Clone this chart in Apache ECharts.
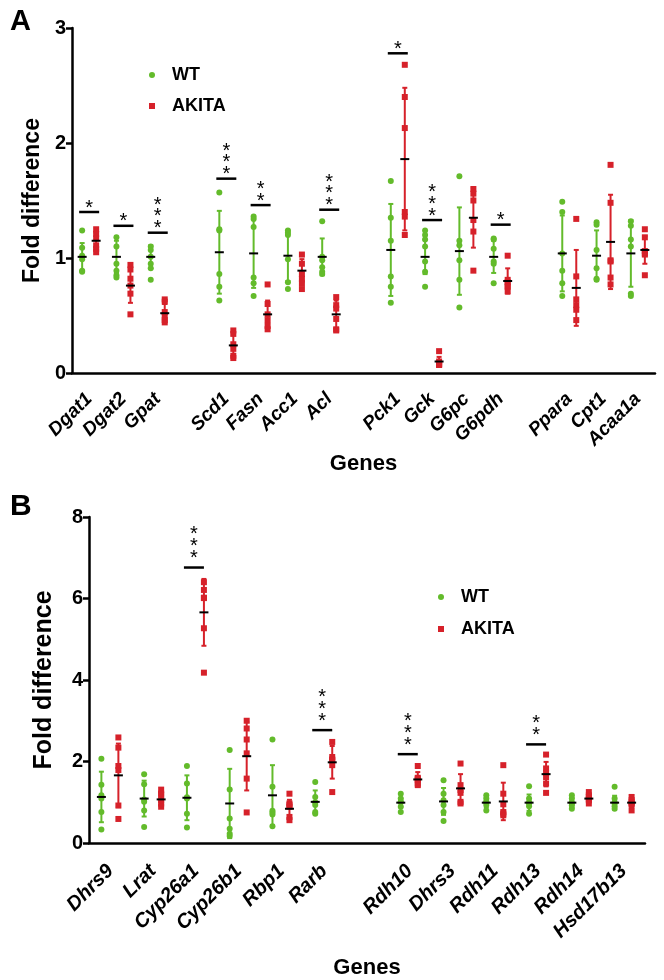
<!DOCTYPE html>
<html>
<head>
<meta charset="utf-8">
<script src="https://cdn.jsdelivr.net/npm/echarts@6/dist/echarts.min.js"></script>
<style>
  html, body { margin: 0; padding: 0; background: #fff; }
  #chart { width: 664px; height: 980px; }
</style>
</head>
<body>
<div id="chart"></div>
<script>
// panel A - lipid / glucose metabolism genes (blank names = gaps on the axis)
const catsA = ['Dgat1', 'Dgat2', 'Gpat', ' ', 'Scd1', 'Fasn', 'Acc1', 'Acl', '  ', 'Pck1', 'Gck', 'G6pc', 'G6pdh', '   ', 'Ppara', 'Cpt1', 'Acaa1a'];
const wtA = [
  [1.24, 1.09, 1.02, 0.99, 0.89, 0.88],
  [1.18, 1.10, 0.95, 0.89, 0.85, 0.83],
  [1.10, 1.07, 1.01, 0.95, 0.91, 0.81],
  [],
  [1.57, 1.25, 1.24, 0.86, 0.75, 0.63],
  [1.36, 1.34, 1.27, 0.83, 0.78, 0.67],
  [1.24, 1.22, 1.20, 0.99, 0.79, 0.73],
  [1.32, 1.01, 0.98, 0.92, 0.88, 0.86],
  [],
  [1.67, 1.35, 1.15, 0.84, 0.75, 0.61],
  [1.24, 1.20, 1.16, 1.10, 0.97, 0.88, 0.75],
  [1.71, 1.15, 1.11, 0.98, 0.81, 0.57],
  [1.17, 1.16, 1.08, 0.97, 0.95, 0.78],
  [],
  [1.49, 1.40, 1.04, 0.89, 0.78, 0.67],
  [1.31, 1.29, 1.07, 0.91, 0.82, 0.81],
  [1.32, 1.28, 1.16, 1.10, 0.69, 0.67]
];
const akitaA = [
  [1.25, 1.21, 1.17, 1.11, 1.08, 1.05],
  [0.94, 0.90, 0.82, 0.76, 0.69, 0.51],
  [0.64, 0.62, 0.53, 0.49, 0.46, 0.44],
  [],
  [0.37, 0.34, 0.25, 0.21, 0.15, 0.13],
  [0.77, 0.60, 0.51, 0.46, 0.41, 0.38],
  [1.03, 0.95, 0.86, 0.82, 0.78, 0.73],
  [0.66, 0.59, 0.56, 0.47, 0.38, 0.37],
  [],
  [2.68, 2.40, 2.13, 1.40, 1.36, 1.20],
  [0.19, 0.10, 0.08, 0.07, 0.07, 0.08],
  [1.60, 1.56, 1.50, 1.33, 1.23, 0.89],
  [1.02, 0.81, 0.79, 0.76, 0.75, 0.71],
  [],
  [1.34, 0.84, 0.64, 0.59, 0.55, 0.46],
  [1.81, 1.48, 0.98, 0.97, 0.83, 0.77],
  [1.25, 1.18, 1.06, 1.04, 1.03, 0.85]
];
const wtMeanA = [1.01, 1.01, 1.01, null, 1.05, 1.04, 1.02, 1.01, null, 1.07, 1.01, 1.06, 1.01, null, 1.04, 1.02, 1.04];
const wtSdA = [0.12, 0.14, 0.10, null, 0.36, 0.30, 0.22, 0.16, null, 0.40, 0.15, 0.38, 0.14, null, 0.33, 0.22, 0.29];
const akMeanA = [1.15, 0.76, 0.52, null, 0.24, 0.51, 0.89, 0.51, null, 1.86, 0.10, 1.35, 0.80, null, 0.74, 1.14, 1.07];
const akSdA = [0.07, 0.15, 0.08, null, 0.09, 0.12, 0.10, 0.12, null, 0.62, 0.04, 0.26, 0.11, null, 0.33, 0.41, 0.12];
// [category index, bar level, number of stars]
const sigA = [[0, 1.40, 1], [1, 1.28, 1], [2, 1.22, 3], [4, 1.69, 3], [5, 1.46, 2], [7, 1.42, 3], [9, 2.78, 1], [10, 1.33, 3], [12, 1.29, 1]];

// panel B - retinoid genes
const catsB = ['Dhrs9', 'Lrat', 'Cyp26a1', 'Cyp26b1', 'Rbp1', 'Rarb', ' ', 'Rdh10', 'Dhrs3', 'Rdh11', 'Rdh13', 'Rdh14', 'Hsd17b13'];
const wtB = [
  [2.07, 1.43, 1.17, 1.09, 0.76, 0.33],
  [1.69, 1.44, 1.07, 1.01, 0.80, 0.39],
  [1.89, 1.46, 1.12, 1.09, 0.72, 0.38],
  [2.28, 1.31, 0.60, 0.35, 0.23, 0.17],
  [2.54, 1.38, 0.79, 0.75, 0.70, 0.41],
  [1.50, 1.13, 1.00, 0.93, 0.76, 0.72],
  [],
  [1.21, 1.09, 1.01, 1.00, 0.89, 0.76],
  [1.54, 1.21, 1.05, 0.93, 0.76, 0.54],
  [1.17, 1.09, 1.01, 1.00, 0.93, 0.80],
  [1.39, 1.09, 1.00, 0.97, 0.90, 0.72],
  [1.17, 1.09, 1.00, 0.97, 0.92, 0.84],
  [1.38, 1.09, 1.00, 0.97, 0.90, 0.84]
];
const akitaB = [
  [2.59, 2.34, 1.89, 1.79, 0.92, 0.59],
  [1.31, 1.21, 1.18, 1.05, 0.97, 0.89],
  [6.40, 6.21, 6.02, 6.01, 5.27, 4.18],
  [3.00, 2.81, 2.54, 2.20, 1.58, 0.75],
  [1.21, 0.97, 0.93, 0.89, 0.64, 0.56],
  [2.48, 2.11, 2.05, 2.03, 1.91, 1.25],
  [],
  [1.89, 1.60, 1.58, 1.55, 1.46, 1.42],
  [1.95, 1.42, 1.30, 1.23, 1.01, 0.97],
  [1.91, 1.21, 0.95, 0.76, 0.72, 0.68],
  [2.17, 1.83, 1.72, 1.62, 1.46, 1.23],
  [1.25, 1.17, 1.13, 1.09, 1.05, 0.97],
  [1.13, 1.05, 1.00, 0.97, 0.95, 0.80]
];
const wtMeanB = [1.13, 1.09, 1.11, 0.97, 1.17, 1.01, null, 0.99, 1.02, 0.99, 0.99, 0.99, 0.99];
const wtSdB = [0.62, 0.44, 0.55, 0.85, 0.74, 0.28, null, 0.10, 0.33, 0.12, 0.20, 0.12, 0.17];
const akMeanB = [1.66, 1.07, 5.66, 2.13, 0.84, 1.98, null, 1.56, 1.34, 1.02, 1.69, 1.09, 0.99];
const akSdB = [0.78, 0.17, 0.82, 0.84, 0.22, 0.40, null, 0.18, 0.35, 0.46, 0.30, 0.10, 0.12];
const sigB = [[2, 6.76, 3], [5, 2.77, 3], [7, 2.18, 3], [10, 2.42, 2]];

const GREEN = '#63bb2b';
const RED = '#d6212a';
const FONT = '"Liberation Sans", Arial, sans-serif';

const chart = echarts.init(document.getElementById('chart'), null, { renderer: 'canvas' });

function points(groups) {
  return groups.flatMap((arr, i) => arr.map(v => [i, v]));
}
function stats(means, sds) {
  return means.map((m, i) => (m == null ? null : [i, m, sds[i]])).filter(Boolean);
}

function errItem(off, color) {
  return function (params, api) {
    const i = api.value(0), m = api.value(1), sd = api.value(2);
    const x = api.coord([i, m])[0] + off;
    const yh = api.coord([i, m + sd])[1];
    const yl = api.coord([i, m - sd])[1];
    const st = { stroke: color, lineWidth: 2 };
    return {
      type: 'group',
      children: [
        { type: 'line', shape: { x1: x, y1: yh, x2: x, y2: yl }, style: st },
        { type: 'line', shape: { x1: x - 2.5, y1: yh, x2: x + 2.5, y2: yh }, style: st },
        { type: 'line', shape: { x1: x - 2.5, y1: yl, x2: x + 2.5, y2: yl }, style: st }
      ]
    };
  };
}

function meanItem(off) {
  return function (params, api) {
    const c = api.coord([api.value(0), api.value(1)]);
    const x = c[0] + off;
    return {
      type: 'line',
      shape: { x1: x - 4.5, y1: c[1], x2: x + 4.5, y2: c[1] },
      style: { stroke: '#000', lineWidth: 2 }
    };
  };
}

function sigItem(l, r, gap, step) {
  return function (params, api) {
    const c = api.coord([api.value(0), api.value(1)]);
    const n = api.value(2);
    const kids = [{
      type: 'line',
      shape: { x1: c[0] + l, y1: c[1], x2: c[0] + r, y2: c[1] },
      style: { stroke: '#000', lineWidth: 2.5 }
    }];
    for (let k = 0; k < n; k++) {
      kids.push({
        type: 'text',
        x: c[0] + (l + r) / 2,
        y: c[1] - gap - k * step + 5,
        style: { text: '*', fill: '#000', fontSize: 20, fontFamily: FONT, align: 'center', verticalAlign: 'middle' }
      });
    }
    return { type: 'group', children: kids };
  };
}

function xAxisOf(idx, cats, nameGap, labelSize, margin) {
  return {
    type: 'category',
    gridIndex: idx,
    data: cats,
    name: 'Genes',
    nameLocation: 'middle',
    nameGap: nameGap,
    nameTextStyle: { fontSize: 22, fontWeight: 'bold', color: '#000', fontFamily: FONT },
    axisLine: { lineStyle: { color: '#000', width: 2.5 } },
    axisTick: { alignWithLabel: true, interval: 0, length: 6, lineStyle: { width: 2.5, color: '#000' } },
    axisLabel: {
      interval: 0, rotate: 45, margin: margin, color: '#000',
      fontSize: labelSize, fontWeight: 'bold', fontStyle: 'italic', fontFamily: FONT
    },
    splitLine: { show: false }
  };
}

function yAxisOf(idx, max, interval, nameGap, nameSize) {
  return {
    type: 'value',
    gridIndex: idx,
    min: 0,
    max: max,
    interval: interval,
    name: 'Fold difference',
    nameLocation: 'middle',
    nameGap: nameGap,
    nameTextStyle: { fontSize: nameSize, fontWeight: 'bold', color: '#000', fontFamily: FONT },
    axisLine: { show: true, lineStyle: { color: '#000', width: 2.5 } },
    axisTick: { show: true, length: 6, lineStyle: { width: 2.5, color: '#000' } },
    axisLabel: { fontSize: 20, fontWeight: 'bold', color: '#000', margin: 6, fontFamily: FONT },
    splitLine: { show: false }
  };
}

function panelSeries(idx, wt, ak, wtMean, wtSd, akMean, akSd, sig, offW, offA, sl, sr, gap) {
  const ax = { xAxisIndex: idx, yAxisIndex: idx };
  return [
    Object.assign({ type: 'custom', renderItem: errItem(offW, GREEN), data: stats(wtMean, wtSd), encode: { x: 0, y: 1 }, z: 1, silent: true }, ax),
    Object.assign({ type: 'custom', renderItem: errItem(offA, RED), data: stats(akMean, akSd), encode: { x: 0, y: 1 }, z: 1, silent: true }, ax),
    Object.assign({ type: 'scatter', name: 'WT', symbol: 'circle', symbolSize: 6, symbolOffset: [offW, 0], itemStyle: { color: GREEN, opacity: 1 }, data: points(wt), z: 2 }, ax),
    Object.assign({ type: 'scatter', name: 'AKITA', symbol: 'rect', symbolSize: 6, symbolOffset: [offA, 0], itemStyle: { color: RED, opacity: 1 }, data: points(ak), z: 2 }, ax),
    Object.assign({ type: 'custom', renderItem: meanItem(offW), data: stats(wtMean, wtSd), encode: { x: 0, y: 1 }, z: 3, silent: true }, ax),
    Object.assign({ type: 'custom', renderItem: meanItem(offA), data: stats(akMean, akSd), encode: { x: 0, y: 1 }, z: 3, silent: true }, ax),
    Object.assign({ type: 'custom', renderItem: sigItem(sl, sr, gap, 11.8), data: sig, encode: { x: 0, y: 1 }, z: 3, silent: true }, ax)
  ];
}

function legendAt(left, top, gap) {
  return {
    left: left, top: top, orient: 'vertical', itemGap: gap,
    itemWidth: 6, itemHeight: 6, selectedMode: false,
    textStyle: { fontSize: 18, fontWeight: 'bold', color: '#000', fontFamily: FONT, lineHeight: 20, padding: [0, 0, 0, 12] },
    data: [{ name: 'WT', icon: 'circle' }, { name: 'AKITA', icon: 'rect' }]
  };
}

chart.setOption({
  animation: false,
  backgroundColor: '#fff',
  title: [
    { text: 'A', left: 5, top: 2, textStyle: { fontSize: 29, fontWeight: 'bold', color: '#000', fontFamily: FONT } },
    { text: 'B', left: 5, top: 487, textStyle: { fontSize: 30, fontWeight: 'bold', color: '#000', fontFamily: FONT } }
  ],
  legend: [legendAt(144, 60, 11), legendAt(433, 582, 12)],
  grid: [
    { left: 72, right: 9, top: 28, bottom: 607 },
    { left: 89, right: 19, top: 517, bottom: 137 }
  ],
  xAxis: [xAxisOf(0, catsA, 58, 19, 23), xAxisOf(1, catsB, 114, 20, 25)],
  yAxis: [yAxisOf(0, 3, 1, 28, 23), yAxisOf(1, 8, 2, 32, 25)],
  series: [
    ...panelSeries(0, wtA, akitaA, wtMeanA, wtSdA, akMeanA, akSdA, sigA, -7, 7, -10, 10, 9),
    ...panelSeries(1, wtB, akitaB, wtMeanB, wtSdB, akMeanB, akSdB, sigB, -9, 8, -12, 8, 14)
  ]
});
</script>
</body>
</html>
